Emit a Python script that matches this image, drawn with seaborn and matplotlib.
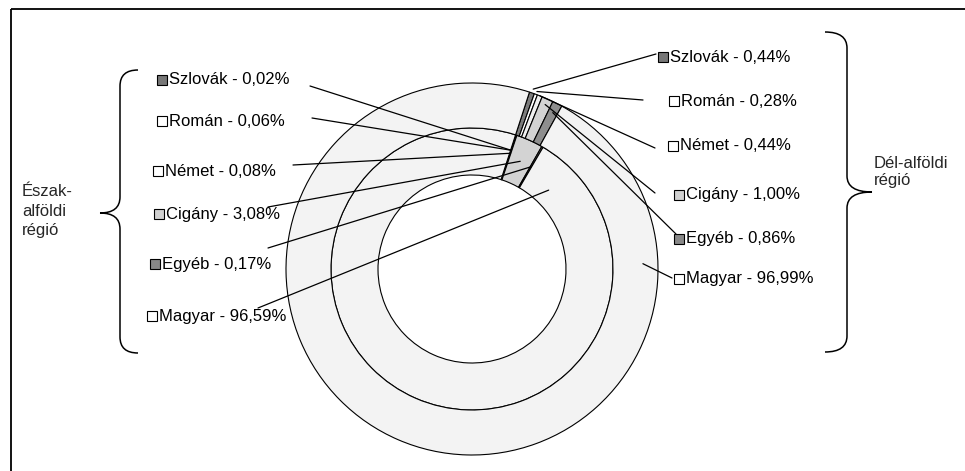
import numpy as np
import matplotlib
matplotlib.use("Agg")
import matplotlib.pyplot as plt
import seaborn as sns
from matplotlib.path import Path
from matplotlib.patches import PathPatch

# data (percent of population by nationality)
groups = ["Szlovák", "Román", "Német", "Cigány", "Egyéb", "Magyar"]
eszak_alfold = [0.02, 0.06, 0.08, 3.08, 0.17, 96.59]   # inner ring
del_alfold = [0.44, 0.28, 0.44, 1.00, 0.86, 96.99]     # outer ring
region_names = ["Észak-\nalföldi\nrégió", "Dél-alföldi\nrégió"]

slice_colors = ["#7c7c7c", "#ffffff", "#f0f0f0", "#d3d3d3", "#8e8e8e", "#f3f3f3"]
marker_colors = ["#777777", "#ffffff", "#ffffff", "#d0d0d0", "#888888", "#ffffff"]

sns.set_theme(style="white")
plt.rcParams["font.family"] = ["Liberation Sans", "DejaVu Sans"]

fig = plt.figure(figsize=(9.65, 4.71), dpi=100)
ax = fig.add_axes([0, 0, 1, 1])

# layout in pixel units, y grows downwards
cx, cy = 472, 269
r_out, r_mid, r_in = 186, 141, 94
edge = dict(edgecolor="black", linewidth=0.8)

inner, _ = ax.pie(eszak_alfold, colors=slice_colors, radius=r_mid, center=(cx, cy),
                  startangle=-72, counterclock=True,
                  wedgeprops=dict(width=r_mid - r_in, **edge))
outer, _ = ax.pie(del_alfold, colors=slice_colors, radius=r_out, center=(cx, cy),
                  startangle=-72, counterclock=True,
                  wedgeprops=dict(width=r_out - r_mid, **edge))

ax.set_xlim(0, 965)
ax.set_ylim(471, 0)
ax.set_aspect("equal")
ax.axis("off")


def wedge_point(w, frac, r):
    a = np.deg2rad(w.theta1 + frac * (w.theta2 - w.theta1))
    return cx + r * np.cos(a), cy + r * np.sin(a)


def fmt(name, v):
    return f"{name} - {v:.2f}%".replace(".", ",")


# label layout
left_marker = [(162, 80), (162, 121), (158, 171), (159, 214), (155, 264), (152, 316)]
left_start = [(310, 86), (312, 118), (293, 165), (268, 207), (268, 248), (258, 308)]
left_frac = [0.5, 0.5, 0.5, 0.5, 0.5, 0.04]
left_r = [125, 125, 122, 118, 118, 110]

right_marker = [(663, 57), (674, 101), (673, 146), (679, 195), (679, 239), (679, 279)]
right_start = [(656, 54), (643, 100), (655, 148), (655, 193), (676, 234), (672, 278)]
right_frac = [0.5, 0.5, 0.5, 0.5, 0.5, 0.17]
right_r = [190, 189, 186, 180, 176, 171]

label_kw = dict(fontsize=12, va="center", ha="left", color="black")

for i, name in enumerate(groups):
    ex, ey = wedge_point(inner[i], left_frac[i], left_r[i])
    ax.plot([left_start[i][0], ex], [left_start[i][1], ey], color="black", lw=0.9)
    mx, my = left_marker[i]
    ax.plot(mx, my, marker="s", ms=7, mfc=marker_colors[i], mec="black", mew=0.8)
    ax.text(mx + 7, my, fmt(name, eszak_alfold[i]), **label_kw)

    ex, ey = wedge_point(outer[i], right_frac[i], right_r[i])
    ax.plot([right_start[i][0], ex], [right_start[i][1], ey], color="black", lw=0.9)
    mx, my = right_marker[i]
    ax.plot(mx, my, marker="s", ms=7, mfc=marker_colors[i], mec="black", mew=0.8)
    ax.text(mx + 7, my, fmt(name, del_alfold[i]), **label_kw)


def brace(x_end, x_spine, x_tip, y_top, y_bot, y_tip, c=16):
    verts = [(x_end, y_top), (x_spine, y_top), (x_spine, y_top + c),
             (x_spine, y_tip - c),
             (x_spine, y_tip), (x_tip, y_tip),
             (x_spine, y_tip), (x_spine, y_tip + c),
             (x_spine, y_bot - c),
             (x_spine, y_bot), (x_end, y_bot)]
    codes = [Path.MOVETO, Path.CURVE3, Path.CURVE3, Path.LINETO,
             Path.CURVE3, Path.CURVE3, Path.CURVE3, Path.CURVE3,
             Path.LINETO, Path.CURVE3, Path.CURVE3]
    ax.add_patch(PathPatch(Path(verts, codes), fill=False, edgecolor="black", lw=1.1))


brace(138, 120, 100, 70, 353, 213)
brace(825, 847, 872, 32, 352, 192)

ax.text(22, 211, region_names[0], fontsize=12, va="center", ha="left", linespacing=1.4)
ax.text(874, 172, region_names[1], fontsize=12, va="center", ha="left", linespacing=1.2)

# outer frame (top and left edges visible)
ax.plot([11, 965], [9, 9], color="black", lw=1.3, solid_capstyle="butt")
ax.plot([11, 11], [9, 471], color="black", lw=1.3, solid_capstyle="butt")

fig.savefig("out.png", dpi=100)
